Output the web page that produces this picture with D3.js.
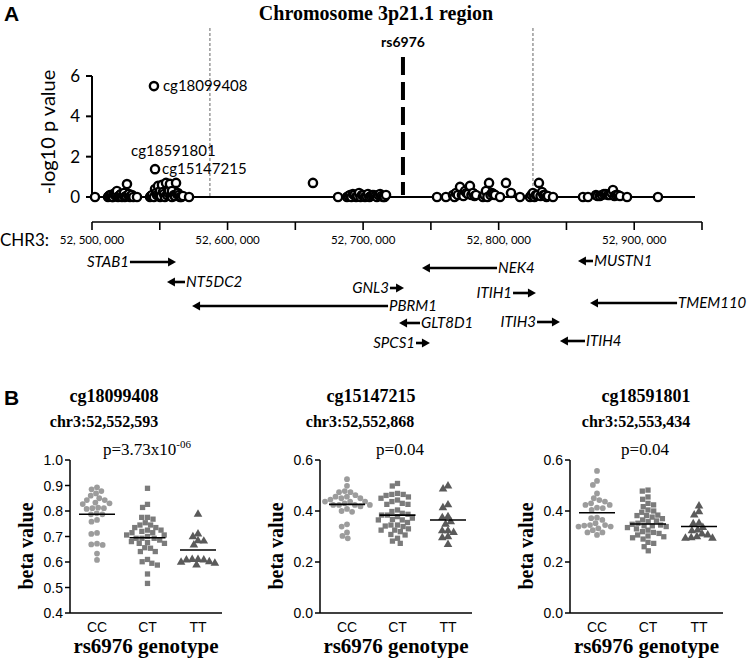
<!DOCTYPE html>
<html><head><meta charset="utf-8">
<script src="https://cdn.jsdelivr.net/npm/d3@7"></script>
<style>
html,body{margin:0;padding:0;background:#fff;}
svg{display:block;}
</style>
</head><body>
<svg id="chart" width="748" height="658"></svg>
<script>
// ---------------- DATA ----------------
// Panel A: CpG association with rs6976 (position in bp, -log10 p)
const cpgPositions = [
 52502200,52511800,52513300,52514800,52516200,52517700,52518400,52519200,52520700,52521400,
 52522100,52523600,52525100,52525800,52526600,52528000,52529500,52533200,
 52542800,52544300,52545700,52545700,52546500,52546500,52547900,52548700,52550200,52550200,
 52551600,52553100,52554600,52556100,52557500,52559000,52559000,52560500,52562000,52563400,
 52564900,52567100,52571600,
 52663000,52681500,52688100,52690300,52692500,52694800,52697000,52699200,52701400,52703600,
 52705800,52708000,52710200,52712500,52714700,52716900,
 52754500,52761100,52766300,52768500,52771500,52772900,52775200,52777400,52778800,52781100,
 52783300,52788400,52790600,52792900,52795100,52797300,52801000,52805400,52809100,52815700,
 52823100,52825300,52827500,52829700,52832000,52834200,52836400,52840100,
 52862200,52865900,52871800,52874700,52877700,52880600,52884300,52886500,52889500,52894700,
 52917500,
 52512500,52514000,52515500,52517000,52519900,52523000,52524300,52527300,52528800,52530500,
 52543500,52547200,52549400,52550900,52552300,52553800,52555300,52556800,52558200,52561200,52562700,52564100,52565900,
 52689200,52691400,52693600,52695900,52698100,52700300,52702500,52704700,52706900,52709100,52711300,52713600,52715800,
 52767400,52769900,52774000,52776300,52779900,52782200,52789500,52791700,52794000,52796200,
 52824200,52826400,52828600,52830900,52833100,52835300,
 52872900,52876200,52879100,52882000,52883300,52885400,52888000
];
const cpgLogP = [
 0,0,0.1,0,0.15,0.05,0.3,0,0.1,0.15,
 0,0.2,0.05,0.64,0.1,0,0.1,0,
 0,0.1,0,5.5,1.38,0.4,0.1,0.55,0.3,0,
 0.6,0.15,0.7,0.2,0.65,0.3,0,0.1,0.7,0.2,
 0,0.05,0,
 0.7,0,0,0.1,0.15,0,0.2,0.1,0,0.15,
 0.05,0.1,0,0.15,0,0.1,
 0,0,0.1,0.2,0.5,0.1,0.3,0.15,0.55,0.2,
 0.1,0,0.3,0.7,0.2,0.1,0,0.7,0.2,0,
 0,0.2,0.1,0.7,0.25,0.1,0.05,0,
 0,0,0.1,0.05,0.15,0.1,0.35,0.1,0.05,0,
 0,
 0.05,0.1,0,0.2,0.05,0.1,0,0.15,0.05,0,
 0.05,0.2,0.1,0.05,0.25,0,0.1,0.3,0.1,0.05,0.15,0.1,0,
 0.05,0,0.1,0.05,0,0.1,0.05,0,0.1,0.05,0.1,0.05,0,
 0,0.1,0.05,0.2,0.1,0.05,0.1,0,0.1,0.15,
 0.1,0,0.1,0.05,0.1,0,
 0.05,0.1,0.15,0.1,0.2,0.05,0.1
];
const labelledCpGs = [
  {name:"cg18099408", pos:52545700, logp:5.5},
  {name:"cg15147215", pos:52546500, logp:1.38},
  {name:"cg18591801", pos:52546500, logp:1.38}
];
const snpName = "rs6976";
const snpPosition = 52729400;
const regionBounds = [52587000, 52825300];
const genomeTicks = [52500000,52550000,52600000,52650000,52700000,52750000,52800000,52850000,52900000,52950000];
const genomeTickLabels = [52500000,52600000,52700000,52800000,52900000];
const yTicksA = [0,2,4,6];

const geneNames   = ["STAB1","NT5DC2","PBRM1","GNL3","NEK4","MUSTN1","ITIH1","TMEM110","GLT8D1","ITIH3","SPCS1","ITIH4"];
const geneStarts  = [52528000,52555300,52573800,52719800,52743400,52858500,52810600,52867400,52726500,52828300,52739000,52845200];
const geneEnds    = [52562000,52568600,52718400,52730200,52798800,52869600,52827500,52931600,52742000,52845200,52749300,52863700];
const geneStrands = ["+","-","-","+","-","-","+","-","-","+","+","-"];

// Panel B
const genotypes = ["CC","CT","TT"];
const probeNames = ["cg18099408","cg15147215","cg18591801"];
const probeLoci  = ["chr3:52,552,593","chr3:52,552,868","chr3:52,553,434"];
const pLabelBase = ["p=3.73x10","p=0.04","p=0.04"];
const pLabelSup  = ["-06","",""];
const yDomainsB  = [[0.4,1.0],[0,0.6],[0,0.6]];
const yTicksB    = [[0.4,0.5,0.6,0.7,0.8,0.9,1.0],[0,0.2,0.4,0.6],[0,0.2,0.4,0.6]];

const b1CC = [0.893,0.885,0.878,0.869,0.860,0.850,0.843,0.843,0.833,0.827,0.830,0.813,0.808,0.811,0.811,0.791,0.787,0.787,0.765,0.758,0.710,0.714,0.669,0.667,0.672,0.633,0.608];
const b1CT = [0.889,0.826,0.814,0.775,0.775,0.768,0.754,0.745,0.745,0.735,0.735,0.725,0.725,0.720,0.715,0.715,0.706,0.706,0.700,0.693,0.693,0.693,0.686,0.680,0.676,0.673,0.673,0.656,0.654,0.641,0.641,0.610,0.601,0.595,0.588,0.553,0.516];
const b1TT = [0.787,0.710,0.699,0.683,0.682,0.667,0.610,0.608,0.610,0.601,0.599,0.608,0.588,0.595];
const b1Means = [0.787,0.695,0.647];

const b2CC = [0.525,0.499,0.478,0.474,0.474,0.462,0.456,0.456,0.450,0.450,0.445,0.437,0.437,0.437,0.430,0.424,0.424,0.424,0.424,0.418,0.408,0.400,0.397,0.348,0.339,0.316,0.302,0.293];
const b2CT = [0.508,0.498,0.469,0.465,0.465,0.461,0.455,0.450,0.443,0.437,0.430,0.426,0.426,0.404,0.398,0.391,0.387,0.384,0.384,0.378,0.372,0.367,0.365,0.365,0.355,0.345,0.345,0.341,0.339,0.330,0.325,0.325,0.319,0.308,0.306,0.293,0.282,0.273];
const b2TT = [0.498,0.486,0.424,0.413,0.378,0.374,0.358,0.348,0.322,0.316,0.322,0.299,0.295,0.269];
const b2Means = [0.426,0.384,0.365];

const b3CC = [0.557,0.518,0.502,0.469,0.450,0.443,0.437,0.430,0.424,0.424,0.413,0.411,0.404,0.374,0.372,0.365,0.352,0.345,0.345,0.343,0.339,0.339,0.332,0.325,0.316,0.316,0.306];
const b3CT = [0.482,0.478,0.455,0.446,0.430,0.424,0.417,0.404,0.400,0.395,0.384,0.382,0.382,0.376,0.370,0.365,0.361,0.358,0.352,0.348,0.345,0.342,0.342,0.339,0.335,0.330,0.325,0.319,0.316,0.312,0.306,0.302,0.299,0.295,0.290,0.277,0.273,0.260,0.244];
const b3TT = [0.420,0.397,0.384,0.352,0.350,0.335,0.325,0.322,0.310,0.306,0.299,0.293,0.293,0.295];
const b3Means = [0.393,0.349,0.339];

// ---------------- DRAW ----------------
const svg = d3.select("#chart");
svg.append("rect").attr("width",748).attr("height",658).attr("fill","#fff");

const SANS = "Lato, 'Open Sans', sans-serif";
const ARIAL = "'Liberation Sans', Arial, sans-serif";
const SERIF = "'Liberation Serif', 'Times New Roman', serif";

svg.append("text").attr("x",4).attr("y",21).text("A")
  .attr("font-family",ARIAL).attr("font-weight","bold").attr("font-size",21);
svg.append("text").attr("x",4).attr("y",405).text("B")
  .attr("font-family",ARIAL).attr("font-weight","bold").attr("font-size",21);

svg.append("text").attr("x",376).attr("y",20).attr("text-anchor","middle")
  .attr("font-family",SERIF).attr("font-weight","bold").attr("font-size",20)
  .text("Chromosome 3p21.1 region");

const xG = d3.scaleLinear().domain([52500000,52950000]).range([92,702]);
const yM = d3.scaleLinear().domain([0,6]).range([197,76]);

const gA = svg.append("g");
gA.selectAll("line.region").data(regionBounds).join("line")
  .attr("x1",d=>xG(d)).attr("x2",d=>xG(d)).attr("y1",28).attr("y2",yM(0))
  .attr("stroke","#666").attr("stroke-width",1).attr("stroke-dasharray","3,2");

gA.append("line").attr("x1",xG(snpPosition)).attr("x2",xG(snpPosition))
  .attr("y1",57).attr("y2",yM(0)-2)
  .attr("stroke","#000").attr("stroke-width",4).attr("stroke-dasharray","18,7");
gA.append("text").attr("x",xG(snpPosition)).attr("y",47).attr("text-anchor","middle")
  .attr("font-family",SANS).attr("font-weight","bold").attr("font-size",14).text(snpName);

gA.append("line").attr("x1",92).attr("x2",695).attr("y1",yM(0)).attr("y2",yM(0))
  .attr("stroke","#000").attr("stroke-width",2);
gA.append("line").attr("x1",92).attr("x2",92).attr("y1",yM(0)).attr("y2",yM(6))
  .attr("stroke","#000").attr("stroke-width",2);
gA.selectAll("line.yt").data(yTicksA).join("line")
  .attr("x1",86).attr("x2",92).attr("y1",d=>yM(d)).attr("y2",d=>yM(d))
  .attr("stroke","#000").attr("stroke-width",2);
gA.selectAll("text.yt").data(yTicksA).join("text")
  .attr("x",80).attr("y",d=>yM(d)).attr("dy","0.36em").attr("text-anchor","end")
  .attr("font-family",SANS).attr("font-size",17).text(d=>d);
gA.append("text").attr("transform","translate(55,132) rotate(-90)").attr("text-anchor","middle")
  .attr("font-family",SANS).attr("font-size",20).text("-log10 p value");

const cpgData = cpgPositions.map((p,i)=>({pos:p, logp:cpgLogP[i]}))
  .sort((a,b)=>a.pos-b.pos || a.logp-b.logp);
gA.selectAll("circle.cpg").data(cpgData).join("circle")
  .attr("cx",d=>xG(d.pos)).attr("cy",d=>yM(d.logp)).attr("r",4.1)
  .attr("fill","#fff").attr("stroke","#000").attr("stroke-width",2.4);

const lab = gA.append("g").attr("font-family",SANS).attr("font-size",15);
lab.append("text").attr("x",xG(labelledCpGs[0].pos)+9).attr("y",yM(labelledCpGs[0].logp)).attr("dy","0.35em").text(labelledCpGs[0].name);
lab.append("text").attr("x",xG(labelledCpGs[1].pos)+7).attr("y",yM(labelledCpGs[1].logp)).attr("dy","0.35em").text(labelledCpGs[1].name);
lab.append("text").attr("x",xG(labelledCpGs[2].pos)-24).attr("y",yM(labelledCpGs[2].logp)-18).attr("dy","0.35em").text(labelledCpGs[2].name);

const gAx = svg.append("g");
gAx.append("line").attr("x1",xG(genomeTicks[0])).attr("x2",xG(genomeTicks[genomeTicks.length-1]))
  .attr("y1",222).attr("y2",222).attr("stroke","#000").attr("stroke-width",1.6);
gAx.selectAll("line.gt").data(genomeTicks).join("line")
  .attr("x1",d=>xG(d)).attr("x2",d=>xG(d)).attr("y1",222).attr("y2",230)
  .attr("stroke","#000").attr("stroke-width",1.6);
gAx.selectAll("text.gt").data(genomeTickLabels).join("text")
  .attr("x",d=>xG(d)).attr("y",244).attr("text-anchor","middle")
  .attr("font-family",SANS).attr("font-size",11.5)
  .text(d=>d3.format(",")(d).replace(/,/g,", "));
gAx.append("text").attr("x",0).attr("y",246).attr("font-family",SANS).attr("font-size",17).text("CHR3:");

const geneRowY = {STAB1:262,NT5DC2:282,PBRM1:306,GNL3:288,NEK4:268,MUSTN1:261,ITIH1:293,TMEM110:303,GLT8D1:323,ITIH3:322,SPCS1:343,ITIH4:341};
const genes = geneNames.map((n,i)=>({name:n,start:geneStarts[i],end:geneEnds[i],strand:geneStrands[i]}));
const gG = svg.append("g");
genes.forEach(g=>{
  const y = geneRowY[g.name];
  const x1 = xG(g.start), x2 = xG(g.end);
  const head = 8, hw = 4.5;
  if (g.strand === "+") {
    gG.append("line").attr("x1",x1).attr("x2",x2-head+1).attr("y1",y).attr("y2",y).attr("stroke","#000").attr("stroke-width",2.6);
    gG.append("path").attr("d",`M${x2},${y}L${x2-head},${y-hw}L${x2-head},${y+hw}Z`).attr("fill","#000");
    gG.append("text").attr("x",x1-1).attr("y",y).attr("dy","0.35em").attr("text-anchor","end")
      .attr("font-family",SANS).attr("font-style","italic").attr("font-size",15).text(g.name);
  } else {
    gG.append("line").attr("x1",x1+head-1).attr("x2",x2).attr("y1",y).attr("y2",y).attr("stroke","#000").attr("stroke-width",2.6);
    gG.append("path").attr("d",`M${x1},${y}L${x1+head},${y-hw}L${x1+head},${y+hw}Z`).attr("fill","#000");
    gG.append("text").attr("x",x2+1).attr("y",y).attr("dy","0.35em").attr("text-anchor","start")
      .attr("font-family",SANS).attr("font-style","italic").attr("font-size",15).text(g.name);
  }
});

// ---------------- Panel B ----------------
const panelData = [
  {vals:[b1CC,b1CT,b1TT], means:b1Means},
  {vals:[b2CC,b2CT,b2TT], means:b2Means},
  {vals:[b3CC,b3CT,b3TT], means:b3Means}
];
const panelLayout = [
  {x0:70,  x1:222, titleX:114, locX:104, pX:147},
  {x0:320, x1:472, titleX:371, locX:360, pX:400},
  {x0:570, x1:723, titleX:646, locX:636, pX:645}
];
const markerTypes = [d3.symbolCircle, d3.symbolSquare, d3.symbolTriangle];
const markerSizes = [26, 28, 32];
const markerColors = ["#9c9c9c","#7b7b7b","#5a5a5a"];

function beeswarm(values, yScale, diam){
  const pts = values.map(v=>({v, y:yScale(v), x:0})).sort((a,b)=>a.y-b.y);
  const placed = [];
  for (const p of pts){
    const cands = [0];
    for (const q of placed){
      const dy = Math.abs(q.y-p.y);
      if (dy < diam){ const dx = Math.sqrt(diam*diam-dy*dy); cands.push(q.x+dx, q.x-dx); }
    }
    cands.sort((a,b)=>Math.abs(a)-Math.abs(b) || a-b);
    for (const c of cands){
      if (placed.every(q=>(q.x-c)*(q.x-c)+(q.y-p.y)*(q.y-p.y) >= diam*diam-0.01)){ p.x=c; break; }
    }
    placed.push(p);
  }
  return placed;
}

panelLayout.forEach((L,pi)=>{
  const g = svg.append("g");
  const yS = d3.scaleLinear().domain(yDomainsB[pi]).range([613,460]);
  const xS = d3.scalePoint().domain(genotypes).range([L.x0+27, L.x1-24]);

  g.append("text").attr("x",L.titleX).attr("y",402).attr("text-anchor","middle")
    .attr("font-family",SERIF).attr("font-weight","bold").attr("font-size",18).text(probeNames[pi]);
  g.append("text").attr("x",L.locX).attr("y",427).attr("text-anchor","middle")
    .attr("font-family",SERIF).attr("font-weight","bold").attr("font-size",16).text(probeLoci[pi]);
  const pt = g.append("text").attr("x",L.pX).attr("y",455).attr("text-anchor","middle")
    .attr("font-family",SERIF).attr("font-size",17);
  pt.append("tspan").text(pLabelBase[pi]);
  if (pLabelSup[pi]) pt.append("tspan").attr("dy",-7).attr("font-size",11).text(pLabelSup[pi]);

  g.append("line").attr("x1",L.x0).attr("x2",L.x0).attr("y1",yS.range()[0]).attr("y2",yS.range()[1])
    .attr("stroke","#000").attr("stroke-width",1.5);
  g.append("line").attr("x1",L.x0).attr("x2",L.x1).attr("y1",613).attr("y2",613)
    .attr("stroke","#000").attr("stroke-width",1.5);
  g.selectAll("line.t").data(yTicksB[pi]).join("line")
    .attr("x1",L.x0-5).attr("x2",L.x0).attr("y1",d=>yS(d)).attr("y2",d=>yS(d))
    .attr("stroke","#000").attr("stroke-width",1.5);
  g.selectAll("text.t").data(yTicksB[pi]).join("text")
    .attr("x",L.x0-7).attr("y",d=>yS(d)).attr("dy","0.36em").attr("text-anchor","end")
    .attr("font-family",ARIAL).attr("font-size",14).text(d=>d3.format(".1f")(d));
  g.selectAll("text.c").data(genotypes).join("text")
    .attr("x",d=>xS(d)).attr("y",632).attr("text-anchor","middle")
    .attr("font-family",ARIAL).attr("font-size",14).text(d=>d);
  g.append("text").attr("x",(L.x0+L.x1)/2).attr("y",653).attr("text-anchor","middle")
    .attr("font-family",SERIF).attr("font-weight","bold").attr("font-size",21).text("rs6976 genotype");
  g.append("text").attr("transform",`translate(${L.x0-37},546) rotate(-90)`).attr("text-anchor","middle")
    .attr("font-family",SERIF).attr("font-weight","bold").attr("font-size",20).text("beta value");

  const D = panelData[pi];
  genotypes.forEach((gt,gi)=>{
    const pts = beeswarm(D.vals[gi], yS, 5.8);
    g.selectAll(null).data(pts).join("path")
      .attr("transform",d=>`translate(${xS(gt)+d.x},${d.y})`)
      .attr("d", d3.symbol().type(markerTypes[gi]).size(markerSizes[gi])())
      .attr("fill",markerColors[gi]);
    g.append("line").attr("x1",xS(gt)-18).attr("x2",xS(gt)+18)
      .attr("y1",yS(D.means[gi])).attr("y2",yS(D.means[gi]))
      .attr("stroke","#000").attr("stroke-width",1.6);
  });
});
</script>
</body></html>
